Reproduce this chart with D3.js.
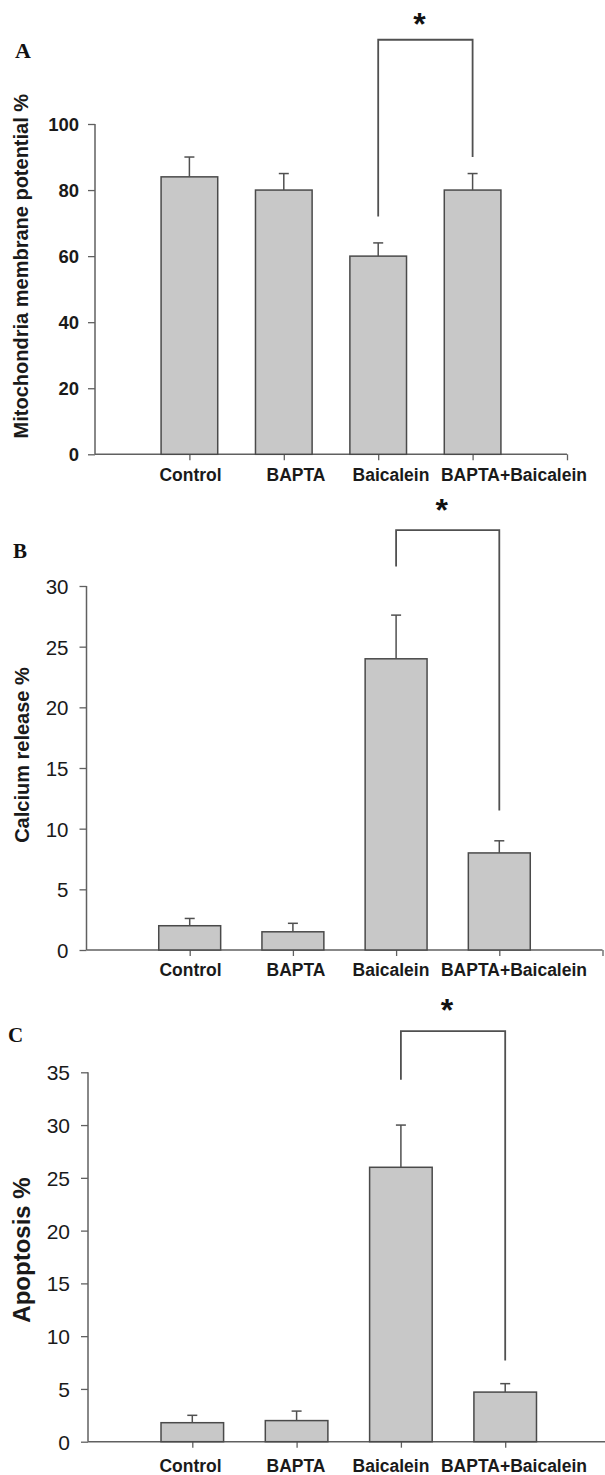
<!DOCTYPE html>
<html>
<head>
<meta charset="utf-8">
<script src="https://cdn.jsdelivr.net/npm/d3@7"></script>
<style>
  html, body { margin: 0; padding: 0; background: #fff; }
  svg { display: block; }
</style>
</head>
<body>
<div id="chart"></div>
<script>
// ---------------- DATA ----------------
const categories = ["Control", "BAPTA", "Baicalein", "BAPTA+Baicalein"];

const mmpValues = [84, 80, 60, 80];
const mmpErrors = [6, 5, 4, 5];
const mmpTicks = [0, 20, 40, 60, 80, 100];

const calciumValues = [2, 1.5, 24, 8];
const calciumErrors = [0.6, 0.7, 3.6, 1.0];
const calciumTicks = [0, 5, 10, 15, 20, 25, 30];

const apoptosisValues = [1.8, 2.0, 26, 4.7];
const apoptosisErrors = [0.7, 0.9, 4.0, 0.8];
const apoptosisTicks = [0, 5, 10, 15, 20, 25, 30, 35];

// significance bracket: [from index, to index], [left leg end, top, right leg end] in data units
const sigPair = [2, 3];
const mmpBracket = [72, 125.5, 90];
const calciumBracket = [31.6, 34.6, 11.5];
const apoptosisBracket = [34.3, 38.9, 7.7];

const yLabels = ["Mitochondria membrane potential %", "Calcium release %", "Apoptosis %"];
const panelLetters = ["A", "B", "C"];

// ---------------- LAYOUT ----------------
const W = 605, H = 1475;
const panels = [
  { values: mmpValues, errors: mmpErrors, ticks: mmpTicks, bracket: mmpBracket,
    yLabel: yLabels[0], letter: panelLetters[0],
    axisX: 95, yZero: 454.3, yTop: 124, step: 94.4,
    tickFont: "bold 18.5px 'Liberation Sans', Arial, sans-serif", tickGap: 16,
    yLabelFont: 20, yLabelX: 28, yLabelShift: -23,
    letterX: 15, letterY: 58, letterSize: 22, catY: 481, starY: 35 },
  { values: calciumValues, errors: calciumErrors, ticks: calciumTicks, bracket: calciumBracket,
    yLabel: yLabels[1], letter: panelLetters[1],
    axisX: 86.5, yZero: 950, yTop: 586, step: 103.2,
    tickFont: "20.5px 'Liberation Sans', Arial, sans-serif", tickGap: 18,
    yLabelFont: 20, yLabelX: 29, yLabelShift: -13,
    letterX: 13, letterY: 558, letterSize: 21, catY: 976, starY: 521 },
  { values: apoptosisValues, errors: apoptosisErrors, ticks: apoptosisTicks, bracket: apoptosisBracket,
    yLabel: yLabels[2], letter: panelLetters[2],
    axisX: 88, yZero: 1441.7, yTop: 1072.3, step: 104.3,
    tickFont: "21px 'Liberation Sans', Arial, sans-serif", tickGap: 18,
    yLabelFont: 24, yLabelX: 30, yLabelShift: -7,
    letterX: 8, letterY: 1042, letterSize: 21, catY: 1472, starY: 1021 }
];
// category label centres (page x) – labels in the original are not centred on the ticks
const catLabelX = [190.5, 296, 391, 514];

const barFill = "#c8c8c8";
const barStroke = "#4a4a4a";
const axisColor = "#606060";
const lineColor = "#505050";

const svg = d3.select("#chart").append("svg")
  .attr("width", W).attr("height", H)
  .attr("viewBox", `0 0 ${W} ${H}`);

panels.forEach(p => {
  const maxTick = p.ticks[p.ticks.length - 1];
  const y = d3.scaleLinear().domain([0, maxTick]).range([p.yZero, p.yTop]);
  const x = d3.scaleLinear().domain([0, 5]).range([p.axisX, p.axisX + 5 * p.step]);
  const bw = p.step * 0.6;
  const g = svg.append("g");

  // y axis
  const yAxis = d3.axisLeft(y).tickValues(p.ticks).tickSize(7).tickPadding(0).tickFormat(d3.format("d"));
  const ya = g.append("g").attr("transform", `translate(${p.axisX},0)`).call(yAxis);
  ya.select(".domain").attr("stroke", axisColor).attr("stroke-width", 1.5)
    .attr("d", `M0,${p.yZero}V${p.yTop}`);
  ya.selectAll(".tick line").attr("stroke", axisColor).attr("stroke-width", 1.3);
  ya.selectAll(".tick text")
    .attr("x", -p.tickGap)
    .attr("dy", "0.36em")
    .style("font", p.tickFont)
    .attr("fill", "#1a1a1a");

  // x axis
  const xAxis = d3.axisBottom(x).tickValues([1, 2, 3, 4, 5]).tickSize(6).tickFormat("");
  const xa = g.append("g").attr("transform", `translate(0,${p.yZero})`).call(xAxis);
  xa.select(".domain").attr("stroke", axisColor).attr("stroke-width", 1.5)
    .attr("d", `M${p.axisX},0H${x(5)}`);
  xa.selectAll(".tick line").attr("stroke", axisColor).attr("stroke-width", 1.3);

  // bars
  const data = categories.map((c, i) => ({ c, i, v: p.values[i], e: p.errors[i] }));
  g.selectAll("rect.bar").data(data).join("rect")
    .attr("class", "bar")
    .attr("x", d => x(d.i + 1) - bw / 2)
    .attr("width", bw)
    .attr("y", d => y(d.v))
    .attr("height", d => y(0) - y(d.v))
    .attr("fill", barFill)
    .attr("stroke", barStroke)
    .attr("stroke-width", 1.5);

  // error bars (upper only)
  g.selectAll("line.err").data(data).join("line")
    .attr("class", "err")
    .attr("x1", d => x(d.i + 1)).attr("x2", d => x(d.i + 1))
    .attr("y1", d => y(d.v)).attr("y2", d => y(d.v + d.e))
    .attr("stroke", lineColor).attr("stroke-width", 1.5);
  g.selectAll("line.cap").data(data).join("line")
    .attr("class", "cap")
    .attr("x1", d => x(d.i + 1) - 5).attr("x2", d => x(d.i + 1) + 5)
    .attr("y1", d => y(d.v + d.e)).attr("y2", d => y(d.v + d.e))
    .attr("stroke", lineColor).attr("stroke-width", 1.5);

  // category labels
  g.selectAll("text.cat").data(categories).join("text")
    .attr("class", "cat")
    .attr("x", (d, i) => catLabelX[i])
    .attr("y", p.catY)
    .attr("text-anchor", "middle")
    .style("font", "bold 17.5px 'Liberation Sans', Arial, sans-serif")
    .attr("fill", "#1a1a1a")
    .text(d => d);

  // y label
  g.append("text")
    .attr("transform", `translate(${p.yLabelX},${(p.yZero + p.yTop) / 2 + p.yLabelShift}) rotate(-90)`)
    .attr("text-anchor", "middle")
    .style("font", `bold ${p.yLabelFont}px 'Liberation Sans', Arial, sans-serif`)
    .attr("fill", "#1a1a1a")
    .text(p.yLabel);

  // panel letter
  g.append("text")
    .attr("x", p.letterX).attr("y", p.letterY)
    .style("font", `bold ${p.letterSize}px 'Liberation Serif', 'Times New Roman', serif`)
    .attr("fill", "#111")
    .text(p.letter);

  // significance bracket
  const xl = x(sigPair[0] + 1), xr = x(sigPair[1] + 1);
  const [bl, bt, br] = p.bracket;
  g.append("path")
    .attr("d", `M${xl},${y(bl)}V${y(bt)}H${xr}V${y(br)}`)
    .attr("fill", "none")
    .attr("stroke", lineColor)
    .attr("stroke-width", 1.8);
  g.append("text")
    .attr("x", (xl + xr) / 2 - 6)
    .attr("y", p.starY)
    .attr("text-anchor", "middle")
    .style("font", "bold 32px 'Liberation Sans', Arial, sans-serif")
    .attr("fill", "#111")
    .text("*");
});
</script>
</body>
</html>
